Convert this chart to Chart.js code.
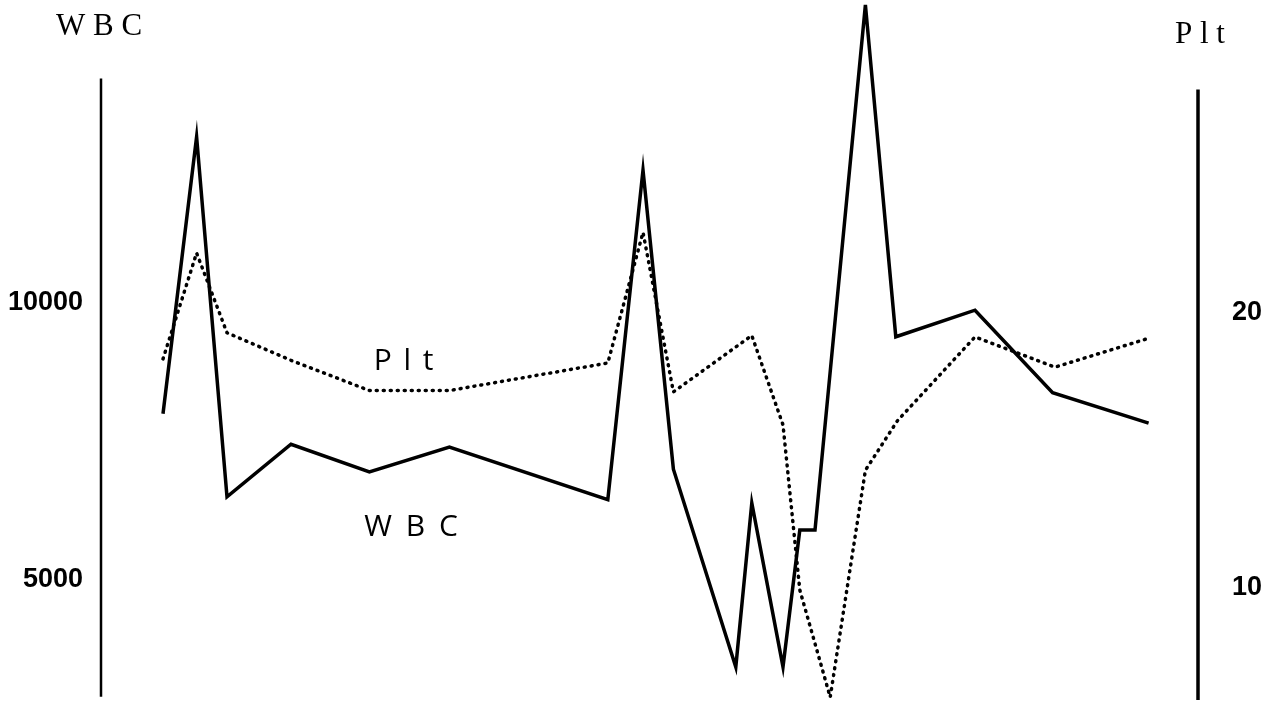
<!DOCTYPE html>
<html lang="ja">
<head>
<meta charset="UTF-8">
<title>WBC・Plt 推移</title>
<script src="https://cdn.jsdelivr.net/npm/chart.js"></script>
<style>
  html, body { margin: 0; padding: 0; background: #fff; }
  #wrap { width: 1272px; height: 709px; }
</style>
</head>
<body>
<div id="wrap"><canvas id="chart"></canvas></div>
<script>
  // 経過日数（横軸は目盛りなし）と各値
  const wbcDays = [0, 2.1, 4, 8, 12.9, 17.9, 27.8, 30, 31.9, 35.8, 36.8, 38.75, 39.8, 40.75, 43.9, 45.8, 50.75, 55.6, 61.6];
  const wbcValues = [8000, 13000, 6500, 7450, 6950, 7400, 6450, 12400, 7000, 3430, 6390, 3430, 5900, 5900, 15380, 9390, 9870, 8380, 7830];
  const pltDays = [0, 2.1, 4, 8, 12.9, 17.9, 27.8, 30, 31.9, 36.8, 38.75, 39.8, 41.7, 43.9, 45.9, 50.75, 55.75, 61.6];
  const pltValues = [18.3, 22.15, 19.25, 18.25, 17.15, 17.15, 18.15, 22.9, 17.1, 19.15, 15.9, 9.9, 6.0, 14.25, 16.05, 19.1, 18.0, 19.05];
  const wbcTicks = [5000, 10000];
  const pltTicks = [10, 20];

  const tickFont = { family: "'Liberation Sans Narrow', 'Arial Narrow', 'Liberation Sans', sans-serif", size: 27, weight: 'bold' };

  // 軸線・軸タイトル・系列名
  const decor = {
    id: 'decor',
    afterDraw(chart) {
      const { ctx, scales } = chart;
      const yW = scales.yW, yP = scales.yP, x = scales.x;
      ctx.save();
      ctx.strokeStyle = '#000';
      ctx.lineWidth = 2.5;
      ctx.beginPath();
      ctx.moveTo(yW.right, yW.getPixelForValue(14050));
      ctx.lineTo(yW.right, yW.getPixelForValue(2890));
      ctx.stroke();
      ctx.lineWidth = 3.5;
      ctx.beginPath();
      ctx.moveTo(yP.left, yP.getPixelForValue(28.1));
      ctx.lineTo(yP.left, yP.getPixelForValue(5.9));
      ctx.stroke();

      ctx.fillStyle = '#000';
      ctx.textAlign = 'center';
      ctx.textBaseline = 'middle';
      ctx.font = "31px 'Liberation Serif', serif";
      ctx.fillText('W B C', yW.right - 2, 27);
      ctx.fillText('P l t', yP.left + 2, 35);

      ctx.font = "30px 'Open Sans', sans-serif";
      ctx.letterSpacing = '2px';
      ctx.fillText('P l t', x.getPixelForValue(15.1), yP.getPixelForValue(18.2));
      ctx.letterSpacing = '3px';
      ctx.fillText('W B C', x.getPixelForValue(15.6), yW.getPixelForValue(5940));
      ctx.restore();
    }
  };

  const fixAxis = (w) => (scale) => {
    scale.width = w;
    scale.paddingTop = 0;
    scale.paddingBottom = 0;
  };

  new Chart(document.getElementById('chart'), {
    type: 'line',
    data: {
      datasets: [
        {
          label: 'WBC',
          data: wbcDays.map((d, i) => ({ x: d, y: wbcValues[i] })),
          yAxisID: 'yW',
          borderColor: '#000',
          borderWidth: 3.5,
          pointRadius: 0,
          tension: 0
        },
        {
          label: 'Plt',
          data: pltDays.map((d, i) => ({ x: d, y: pltValues[i] })),
          yAxisID: 'yP',
          borderColor: '#000',
          borderWidth: 3.5,
          borderDash: [1, 6],
          borderCapStyle: 'round',
          pointRadius: 0,
          tension: 0
        }
      ]
    },
    options: {
      responsive: true,
      maintainAspectRatio: false,
      animation: false,
      layout: { padding: 0 },
      plugins: { legend: { display: false }, tooltip: { enabled: false } },
      scales: {
        x: { type: 'linear', display: false, min: -3.875, max: 64.6875 },
        yW: {
          position: 'left',
          min: 2671,
          max: 15469,
          grid: { display: false },
          border: { display: false },
          ticks: { color: '#000', font: tickFont, padding: 10, callback: v => String(v) },
          afterBuildTicks: s => { s.ticks = wbcTicks.map(v => ({ value: v })); },
          afterFit: fixAxis(101)
        },
        yP: {
          position: 'right',
          min: 5.57,
          max: 31.35,
          grid: { display: false },
          border: { display: false },
          ticks: { color: '#000', font: tickFont, padding: 26, callback: v => String(v) },
          afterBuildTicks: s => { s.ticks = pltTicks.map(v => ({ value: v })); },
          afterFit: fixAxis(74)
        }
      }
    },
    plugins: [decor]
  });
</script>
</body>
</html>
